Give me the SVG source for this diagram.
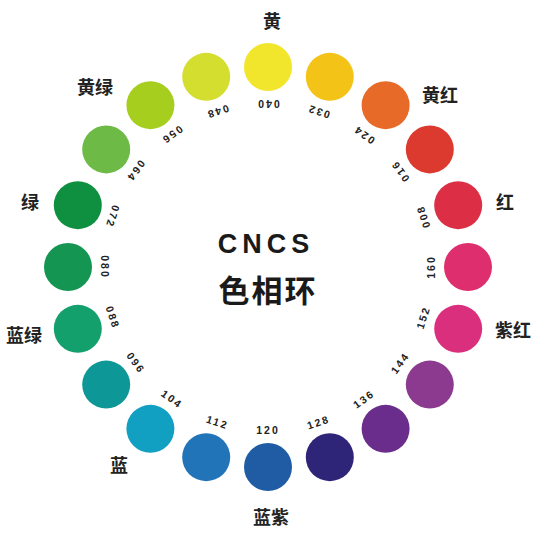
<svg xmlns="http://www.w3.org/2000/svg" width="540" height="540" viewBox="0 0 540 540">
<style>
.dot{stroke:none}
.num{font-family:"Liberation Sans",Arial,sans-serif;font-size:10.5px;font-weight:bold;fill:#222;text-anchor:middle;dominant-baseline:central;letter-spacing:2px}
.lab{font-family:"Liberation Sans","Noto Sans CJK SC",sans-serif;font-size:18px;font-weight:bold;fill:#222;text-anchor:middle;dominant-baseline:central}
.title{font-family:"Liberation Sans","Noto Sans CJK SC",sans-serif;font-weight:bold;fill:#1a1a1a;text-anchor:middle;dominant-baseline:central}
</style>
<rect width="540" height="540" fill="#fff"/>
<g id="hue040"><circle class="dot" cx="268" cy="67" r="24" fill="#F2E62C"/><text class="num" x="268" y="104" transform="rotate(180 268 104)">040</text></g>
<g id="hue032"><circle class="dot" cx="329.8" cy="76.8" r="24" fill="#F4C318"/><text class="num" x="318.4" y="112" transform="rotate(198 318.4 112)">032</text></g>
<g id="hue024"><circle class="dot" cx="385.6" cy="105.2" r="24" fill="#E86A28"/><text class="num" x="363.8" y="135.1" transform="rotate(216 363.8 135.1)">024</text></g>
<g id="hue016"><circle class="dot" cx="429.8" cy="149.4" r="24" fill="#DC3A2F"/><text class="num" x="399.9" y="171.2" transform="rotate(234 399.9 171.2)">016</text></g>
<g id="hue008"><circle class="dot" cx="458.2" cy="205.2" r="24" fill="#DC2F45"/><text class="num" x="423" y="216.6" transform="rotate(252 423 216.6)">008</text></g>
<g id="hue160"><circle class="dot" cx="468" cy="267" r="24" fill="#DE2E6E"/><text class="num" x="431" y="267" transform="rotate(270 431 267)">160</text></g>
<g id="hue152"><circle class="dot" cx="458.2" cy="328.8" r="24" fill="#DA2F7C"/><text class="num" x="423" y="317.4" transform="rotate(288 423 317.4)">152</text></g>
<g id="hue144"><circle class="dot" cx="429.8" cy="384.6" r="24" fill="#8C3A8F"/><text class="num" x="399.9" y="362.8" transform="rotate(306 399.9 362.8)">144</text></g>
<g id="hue136"><circle class="dot" cx="385.6" cy="428.8" r="24" fill="#6A2D8B"/><text class="num" x="363.8" y="398.9" transform="rotate(324 363.8 398.9)">136</text></g>
<g id="hue128"><circle class="dot" cx="329.8" cy="457.2" r="24" fill="#2E2578"/><text class="num" x="318.4" y="422" transform="rotate(342 318.4 422)">128</text></g>
<g id="hue120"><circle class="dot" cx="268" cy="467" r="24" fill="#1F5CA3"/><text class="num" x="268" y="430">120</text></g>
<g id="hue112"><circle class="dot" cx="206.2" cy="457.2" r="24" fill="#2274B9"/><text class="num" x="217.6" y="422" transform="rotate(18 217.6 422)">112</text></g>
<g id="hue104"><circle class="dot" cx="150.4" cy="428.8" r="24" fill="#12A0C2"/><text class="num" x="172.2" y="398.9" transform="rotate(36 172.2 398.9)">104</text></g>
<g id="hue096"><circle class="dot" cx="106.2" cy="384.6" r="24" fill="#0E9797"/><text class="num" x="136.1" y="362.8" transform="rotate(54 136.1 362.8)">096</text></g>
<g id="hue088"><circle class="dot" cx="77.8" cy="328.8" r="24" fill="#14A06C"/><text class="num" x="113" y="317.4" transform="rotate(72 113 317.4)">088</text></g>
<g id="hue080"><circle class="dot" cx="68" cy="267" r="24" fill="#149552"/><text class="num" x="105" y="267" transform="rotate(90 105 267)">080</text></g>
<g id="hue072"><circle class="dot" cx="77.8" cy="205.2" r="24" fill="#0F9040"/><text class="num" x="113" y="216.6" transform="rotate(108 113 216.6)">072</text></g>
<g id="hue064"><circle class="dot" cx="106.2" cy="149.4" r="24" fill="#6DBA46"/><text class="num" x="136.1" y="171.2" transform="rotate(126 136.1 171.2)">064</text></g>
<g id="hue056"><circle class="dot" cx="150.4" cy="105.2" r="24" fill="#A6CE1F"/><text class="num" x="172.2" y="135.1" transform="rotate(144 172.2 135.1)">056</text></g>
<g id="hue048"><circle class="dot" cx="206.2" cy="76.8" r="24" fill="#D3DE2F"/><text class="num" x="217.6" y="112" transform="rotate(162 217.6 112)">048</text></g>
<g id="labels">
<text class="lab" x="272" y="22">黄</text>
<text class="lab" x="440" y="96">黄红</text>
<text class="lab" x="505" y="203">红</text>
<text class="lab" x="513" y="331">紫红</text>
<text class="lab" x="271" y="518">蓝紫</text>
<text class="lab" x="119" y="466">蓝</text>
<text class="lab" x="24" y="336">蓝绿</text>
<text class="lab" x="30" y="203">绿</text>
<text class="lab" x="95" y="88">黄绿</text>
</g>
<g id="title">
<text class="title" x="266" y="244" font-size="27" letter-spacing="5">CNCS</text>
<text class="title" x="268" y="291" font-size="31" letter-spacing="2">色相环</text>
</g>
<g id="connectors"/>
</svg>
